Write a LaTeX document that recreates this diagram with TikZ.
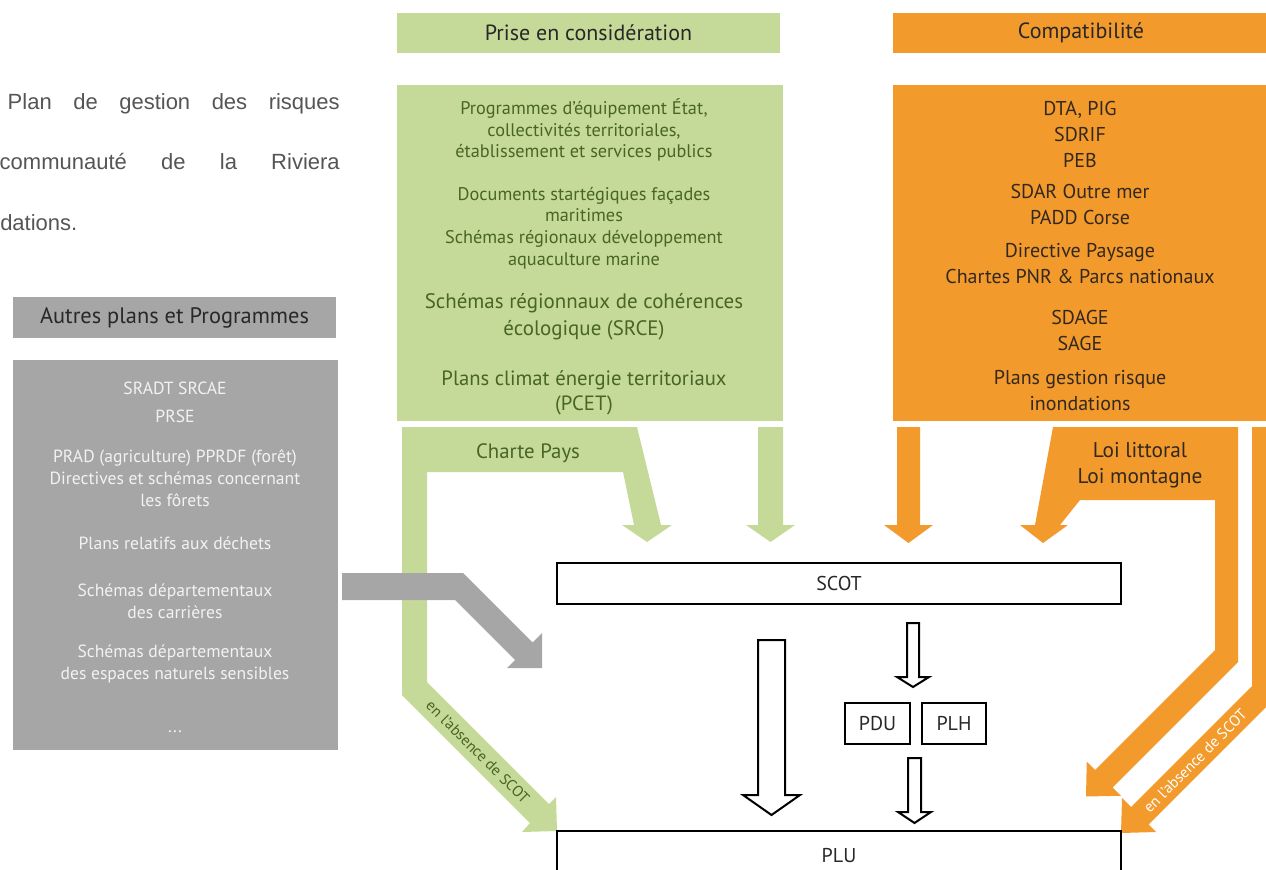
\documentclass[tikz,border=0pt]{standalone}
\usepackage{fontspec}
\setmainfont{PT Sans}
\newfontfamily\arialfont{Liberation Sans}
\definecolor{vert}{RGB}{197,218,152}
\definecolor{verttxt}{RGB}{72,100,38}
\definecolor{orangeb}{RGB}{243,154,44}
\definecolor{orangetxt}{RGB}{50,40,30}
\definecolor{gris}{RGB}{166,166,166}
\definecolor{gristxt}{RGB}{242,242,242}
\definecolor{texte}{RGB}{40,40,40}
\definecolor{para}{RGB}{85,85,85}
\tikzset{
  hollow/.style={draw=black, fill=white, line width=1.5pt, line join=miter},
  plainbox/.style={draw=black, fill=white, line width=1.5pt, inner sep=0, text=texte,
    font=\fontsize{15}{18}\selectfont},
}
\begin{document}
\begin{tikzpicture}[x=0.75pt,y=-0.75pt]
  \useasboundingbox (0,0) rectangle (1266,870);
  \clip (0,0) rectangle (1266,870);

  % texte coupe
  \begin{scope}[every node/.style={inner sep=0, text=para, font=\arialfont\fontsize{16.5}{20}\selectfont}]
    \node[anchor=base east] (l1) at (340,110) {\makebox[249pt][s]{Plan de gestion des risques}};
    \node[anchor=base east] (l2) at (340,170) {\makebox[255pt][s]{communauté de la Riviera}};
    \node[anchor=base west] (l3) at (0,230) {dations.};
  \end{scope}

  % en-tetes et cadres
  \begin{scope}[every node/.style={inner sep=0, text=texte, font=\fontsize{16.5}{19}\selectfont}]
    \node[fill=vert, minimum width=287.25pt, minimum height=30pt] (prise) at (588.5,33) {Prise en considération};
    \node[fill=orangeb, minimum width=282pt, minimum height=30pt] (compat) at (1081,33) {Compatibilité};
    \node[fill=gris, minimum width=242.25pt, minimum height=30.75pt, font=\fontsize{16.8}{19}\selectfont] (autres) at (174.5,317.5) {Autres plans et Programmes};
    \node[fill=vert, minimum width=289.5pt, minimum height=252pt] (vbody) at (590,253) {};
    \node[fill=orangeb, minimum width=282pt, minimum height=252pt] (obody) at (1081,253) {};
    \node[fill=gris, minimum width=243.75pt, minimum height=292.5pt] (gbody) at (175.5,555) {};
  \end{scope}

  \begin{scope}[every node/.style={inner sep=0, align=center, text=verttxt}]
    \node[font=\fontsize{13.7}{16.3}\selectfont] (v1) at (584,130) {Programmes d'équipement État,\\collectivités territoriales,\\établissement et services publics};
    \node[font=\fontsize{13.7}{16.3}\selectfont] (v2) at (584,228) {Documents startégiques façades\\maritimes\\Schémas régionaux développement\\aquaculture marine};
    \node[font=\fontsize{15.7}{20}\selectfont] (v3) at (584,316.5) {Schémas régionnaux de cohérences\\écologique (SRCE)};
    \node[font=\fontsize{15.5}{19}\selectfont] (v4) at (584,392.5) {Plans climat énergie territoriaux\\(PCET)};
  \end{scope}

  \begin{scope}[every node/.style={inner sep=0, align=center, text=orangetxt, font=\fontsize{15}{19.5}\selectfont}]
    \node (o1) at (1080,134) {DTA, PIG\\SDRIF\\PEB};
    \node (o2) at (1080,204.5) {SDAR Outre mer\\PADD Corse};
    \node (o3) at (1080,264) {Directive Paysage\\Chartes PNR \& Parcs nationaux};
    \node (o4) at (1080,330) {SDAGE\\SAGE};
    \node (o5) at (1080,391) {Plans gestion risque\\inondations};
  \end{scope}

  \begin{scope}[every node/.style={inner sep=0, align=center, text=gristxt, font=\fontsize{13.2}{16.5}\selectfont}]
    \node (g1) at (175,388) {SRADT SRCAE};
    \node (g2) at (175,416) {PRSE};
    \node (g3) at (175,478) {PRAD (agriculture) PPRDF (forêt)\\Directives et schémas concernant\\les fôrets};
    \node (g4) at (175,543) {Plans relatifs aux déchets};
    \node (g5) at (175,601.5) {Schémas départementaux\\des carrières};
    \node (g6) at (175,664) {Schémas départementaux\\des espaces naturels sensibles};
    \node (g7) at (175,732) {...};
  \end{scope}

  % fleches vertes
  \fill[vert] (402,427) -- (637,427) -- (661,525) -- (672,525) -- (647,542) -- (622,525) -- (634,525)
    -- (623,472) -- (427,472) -- (427,682) -- (549,804) -- (556,797) -- (557,831) -- (522,832)
    -- (530,823) -- (402,695) -- cycle;
  \fill[vert] (758,427) -- (783,427) -- (783,525) -- (795,525) -- (770.5,542) -- (746,525) -- (758,525) -- cycle;

  % fleche grise
  \fill[gris] (342,573) -- (463,573) -- (532.5,642.5) -- (542,633) -- (542,668) -- (507,668)
    -- (515,660) -- (455,600) -- (342,600) -- cycle;

  % fleches orange
  \fill[orangeb] (897,427) -- (920,427) -- (920,525) -- (933,525) -- (908.5,543) -- (884,525) -- (897,525) -- cycle;
  \fill[orangeb] (1053,427) -- (1238,427) -- (1238,662) -- (1112.5,787.5) -- (1120.75,795.75)
    -- (1086,796.5) -- (1086.75,761.75) -- (1095,770) -- (1215,650) -- (1215,500) -- (1080,500)
    -- (1060,525) -- (1068,525) -- (1043,543) -- (1020,525) -- (1035,525) -- cycle;
  \fill[orangeb] (1252,427) -- (1280,427) -- (1280,693) -- (1148.5,824.5) -- (1156,832) -- (1121,833)
    -- (1122,798) -- (1131,807) -- (1252,686) -- cycle;

  \node[inner sep=0, text=verttxt, font=\fontsize{15.6}{18}\selectfont] (charte) at (528,453) {Charte Pays};
  \node[inner sep=0, align=center, text=orangetxt, font=\fontsize{16}{19.5}\selectfont] (loi) at (1140,465) {Loi littoral\\Loi montagne};
  \node[inner sep=0, rotate=-45, text=verttxt, font=\fontsize{11.5}{14}\selectfont] (absv) at (478,752) {en l'absence de SCOT};
  \node[inner sep=0, rotate=45, text=white, font=\fontsize{11.5}{14}\selectfont] (abso) at (1195,761) {en l'absence de SCOT};

  % boites
  \node[plainbox, minimum width=423pt, minimum height=30.75pt] (scot) at (839,583.5) {SCOT};
  \node[plainbox, minimum width=423pt, minimum height=36pt] (plu) at (839,855) {PLU};
  \node[plainbox, minimum width=48.75pt, minimum height=30.75pt] (pdu) at (877.5,723.5) {PDU};
  \node[plainbox, minimum width=48pt, minimum height=30.75pt] (plh) at (954,723.5) {PLH};

  % fleches creuses
  \draw[hollow] (758,640) -- (785,640) -- (785,795) -- (800,795) -- (771.5,815) -- (743,795) -- (758,795) -- cycle;
  \draw[hollow] (907,623) -- (919,623) -- (919,677) -- (929,677) -- (913,687) -- (897,677) -- (907,677) -- cycle;
  \draw[hollow] (908,758) -- (921,758) -- (921,812) -- (931,812) -- (914.5,823) -- (898,812) -- (908,812) -- cycle;

\end{tikzpicture}
\end{document}
